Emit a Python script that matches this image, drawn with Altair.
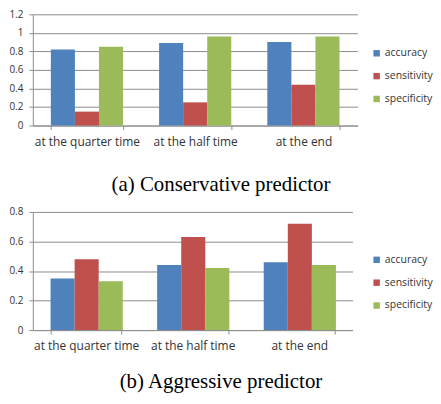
import altair as alt
import pandas as pd

categories = ["at the quarter time", "at the half time", "at the end"]
series = ["accuracy", "sensitivity", "specificity"]
colors = ["#4F81BD", "#C0504D", "#9BBB59"]

cons_accuracy = [0.82, 0.89, 0.90]
cons_sensitivity = [0.15, 0.25, 0.44]
cons_specificity = [0.85, 0.96, 0.96]

aggr_accuracy = [0.35, 0.44, 0.46]
aggr_sensitivity = [0.48, 0.63, 0.72]
aggr_specificity = [0.33, 0.42, 0.44]

y_ticks_a = [0, 0.2, 0.4, 0.6, 0.8, 1, 1.2]
y_ticks_b = [0, 0.2, 0.4, 0.6, 0.8]


def make_df(acc, sens, spec):
    rows = []
    for i, c in enumerate(categories):
        for s, vals in zip(series, [acc, sens, spec]):
            rows.append({"category": c, "series": s, "value": vals[i]})
    return pd.DataFrame(rows)


df_a = make_df(cons_accuracy, cons_sensitivity, cons_specificity)
df_b = make_df(aggr_accuracy, aggr_sensitivity, aggr_specificity)

TXT = "#333333"
GRID = "#8c8c8c"


def panel(df, ticks, ymax, width, height, legend_x, legend_y, caption, offset):
    return alt.Chart(df).mark_bar().encode(
        x=alt.X("category:N", sort=categories, title=None,
                scale=alt.Scale(paddingInner=0.333, paddingOuter=0.1665),
                axis=alt.Axis(labelAngle=0, tickBand="extent", tickSize=4,
                              tickColor=GRID, domainColor=GRID, labelPadding=7,
                              labelFont="Open Sans", labelFontSize=12,
                              labelColor=TXT, grid=False)),
        xOffset=alt.XOffset("series:N", sort=series),
        y=alt.Y("value:Q", title=None,
                scale=alt.Scale(domain=[0, ymax], nice=False),
                axis=alt.Axis(values=ticks, tickSize=4, tickColor=GRID,
                              domainColor=GRID, gridColor=GRID, gridOpacity=1,
                              labelPadding=6, labelFont="Open Sans",
                              labelFontSize=10, labelColor=TXT,
                              format="~g")),
        color=alt.Color("series:N", sort=series,
                        scale=alt.Scale(domain=series, range=colors),
                        legend=alt.Legend(title=None, orient="none",
                                          legendX=legend_x, legendY=legend_y,
                                          symbolType="square", symbolSize=42,
                                          symbolStrokeWidth=0,
                                          labelFont="Open Sans",
                                          labelFontSize=10.5, labelColor=TXT,
                                          rowPadding=12, labelOffset=3)),
    ).properties(
        width=width, height=height,
        title=alt.TitleParams(caption, orient="bottom", frame="bounds",
                              anchor="middle", font="Liberation Serif",
                              fontSize=21, fontWeight="normal", color="#000000",
                              offset=offset),
    )


top = panel(df_a, y_ticks_a, 1.2, 327, 112, 341, 34,
            "(a) Conservative predictor", 27)
bottom = panel(df_b, y_ticks_b, 0.8, 322, 119, 341, 43,
               "(b) Aggressive predictor", 19)

chart = alt.vconcat(top, bottom, spacing=12).resolve_scale(
    color="independent"
).resolve_legend(color="independent").properties(
    padding={"top": 0, "left": 0, "right": 0, "bottom": 0}
).configure_view(stroke=None)

chart.save("out.html", embed_options={"renderer": "svg", "actions": False})
